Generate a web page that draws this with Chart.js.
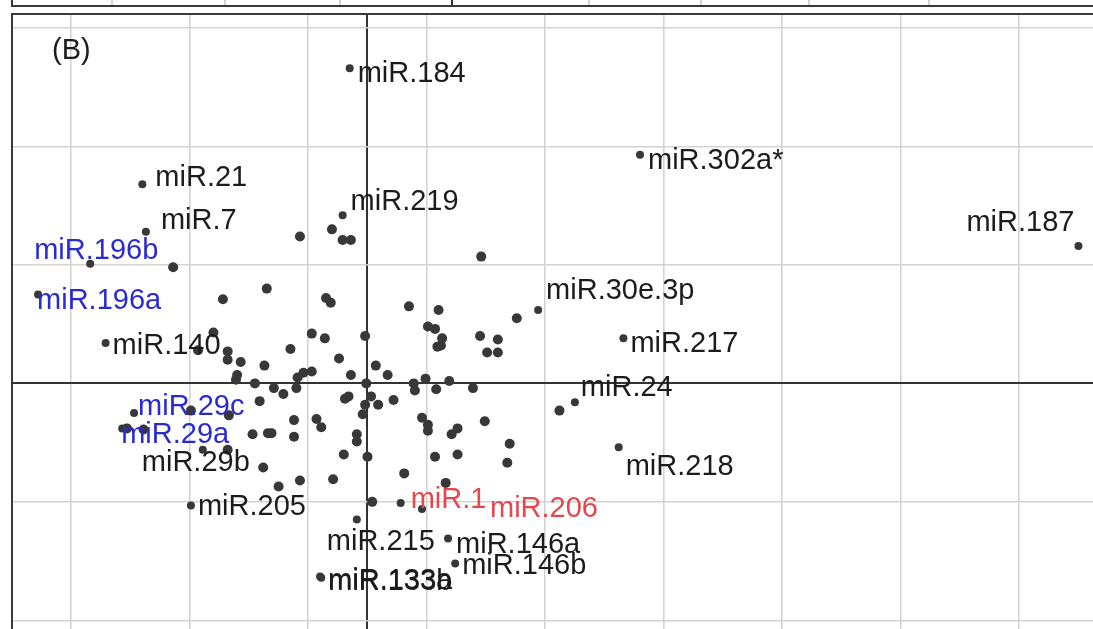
<!DOCTYPE html>
<html>
<head>
<meta charset="utf-8">
<script src="https://cdn.jsdelivr.net/npm/chart.js@4.4.1/dist/chart.umd.min.js"></script>
<style>
  body { margin: 0; background: #fff; overflow: hidden; width: 1093px; height: 629px; }
  #panelA { position: absolute; left: 0; top: 0; }
  #graph { position: absolute; left: 0; top: 0; }
</style>
</head>
<body>
<canvas id="graph" width="1120" height="650"></canvas>
<canvas id="panelA" width="1093" height="8"></canvas>
<script>
// labelled miRNAs
var labNames = ['miR.184', 'miR.302a*', 'miR.21', 'miR.219', 'miR.7', 'miR.187', 'miR.196b', 'miR.196a',
  'miR.30e.3p', 'miR.217', 'miR.140', 'miR.24', 'miR.29c', 'miR.29a', 'miR.29b', 'miR.205',
  'miR.1', 'miR.206', 'miR.215', 'miR.146a', 'miR.146b', 'miR.133a', 'miR.133b', 'miR.218'];
var labX = [-0.15, 2.30, -1.90, -0.21, -1.87, 6.00, -2.34, -2.78,
  1.44, 2.16, -2.21, 1.75, -1.97, -2.07, -1.39, -1.49,
  0.28, 0.46, -0.09, 0.68, 0.74, -0.40, -0.39, 2.12];
var labY = [2.66, 1.93, 1.68, 1.42, 1.28, 1.16, 1.01, 0.75,
  0.62, 0.38, 0.34, -0.16, -0.25, -0.38, -0.56, -1.03,
  -1.01, -1.06, -1.15, -1.31, -1.52, -1.63, -1.64, -0.54];
// 'k' black, 'b' blue, 'r' red
var labGroup = ['k', 'k', 'k', 'k', 'k', 'k', 'b', 'b',
  'k', 'k', 'k', 'k', 'b', 'b', 'k', 'k',
  'r', 'r', 'k', 'k', 'k', 'k', 'k', 'k'];

// unlabelled miRNAs
var otherX = [-1.64, -0.57, -0.30, -0.21, -0.14, 0.96, -1.22, -0.85, -0.35, -0.31,
  0.35, 0.60, 1.26, 0.51, 0.57, 0.63, 0.62, 0.59, 0.95, 1.10,
  1.01, 1.10, -0.47, -0.36, -0.02, -0.65, -0.24, -0.87, 0.07, -0.14,
  0.17, -0.59, -0.54, -0.47, -0.95, -0.79, -0.60, -0.71, -0.01, 0.49,
  0.69, 0.39, 0.40, 0.58, 0.89, -0.91, -0.19, -0.16, 0.03, -0.02,
  0.09, 0.22, -0.04, -0.43, -0.39, -0.62, 0.46, 0.51, 0.51, 0.99,
  0.76, 0.71, -0.97, -0.84, -0.81, -0.62, -0.09, -0.09, 1.20, 1.18,
  0.57, 0.76, -0.20, 0.00, -0.88, 0.31, -0.29, -0.57, -0.75, 0.66,
  0.04, -1.30, -1.43, -1.18, -1.18, -1.07, -1.10, -1.11, -1.49, -1.17,
  -1.18, -2.03, -1.89, 1.62];
var otherY = [0.98, 1.24, 1.30, 1.21, 1.21, 1.07, 0.71, 0.80, 0.72, 0.68,
  0.65, 0.62, 0.55, 0.48, 0.46, 0.38, 0.32, 0.31, 0.40, 0.37,
  0.26, 0.26, 0.42, 0.38, 0.40, 0.29, 0.21, 0.15, 0.15, 0.07,
  0.07, 0.05, 0.09, 0.10, 0.00, -0.04, -0.04, -0.09, 0.00, 0.04,
  0.02, 0.00, -0.06, -0.05, -0.04, -0.15, -0.13, -0.11, -0.11, -0.18,
  -0.18, -0.14, -0.26, -0.30, -0.37, -0.31, -0.29, -0.35, -0.40, -0.32,
  -0.38, -0.43, -0.43, -0.42, -0.42, -0.45, -0.43, -0.49, -0.51, -0.67,
  -0.62, -0.60, -0.60, -0.62, -0.71, -0.76, -0.81, -0.82, -0.87, -0.84,
  -1.00, 0.43, 0.28, 0.27, 0.20, 0.18, 0.07, 0.03, -0.23, -0.27,
  -0.56, -0.38, -0.39, -0.23];

var xGrid = [-2.5, -1.5, -0.5, 0, 0.5, 1.5, 2.5, 3.5, 4.5, 5.5];
var yGrid = [-2, -1, 0, 1, 2, 3];
var panelAGrid = [112, 225, 340, 452, 589, 701, 809, 929];

// where each label sits relative to its point (px)
var labelOffsets = [[8, 6], [8, 6], [13, -6], [8, -13], [15, -11], [-112, -23], [-56, -13], [-1, 6],
  [8, -19], [7, 6], [7, 3], [6, -14], [4, -6], [-1, 7], [-61, 13], [7, 2],
  [10, -3], [68, 0], [-30, 22], [8, 6], [7, 3], [8, 5], [7, 4], [7, 20]];
var groupColors = { k: '#1c1c1c', b: '#2a2ad2', r: '#e4474d' };
var FONT = "29px 'Liberation Sans', Arial, sans-serif";

function toPoints(xs, ys) {
  return xs.map(function(v, i) { return { x: v, y: ys[i] }; });
}

var framePlugin = {
  id: 'frame',
  beforeDatasetsDraw: function(chart) {
    var ctx = chart.ctx, a = chart.chartArea;
    ctx.save();
    ctx.strokeStyle = '#3a3a3a';
    ctx.lineWidth = 2;
    ctx.beginPath();
    ctx.moveTo(a.left, a.bottom);
    ctx.lineTo(a.left, a.top);
    ctx.lineTo(a.right, a.top);
    ctx.stroke();
    ctx.restore();
  }
};

var labelPlugin = {
  id: 'labels',
  afterDatasetsDraw: function(chart) {
    var ctx = chart.ctx;
    var sx = chart.scales.x, sy = chart.scales.y;
    ctx.save();
    ctx.font = FONT;
    ctx.textBaseline = 'middle';
    ctx.textAlign = 'left';
    ctx.fillStyle = '#1c1c1c';
    ctx.fillText('(B)', 52, 51);
    labNames.forEach(function(name, i) {
      var px = sx.getPixelForValue(labX[i]) + labelOffsets[i][0];
      var py = sy.getPixelForValue(labY[i]) + labelOffsets[i][1];
      ctx.fillStyle = groupColors[labGroup[i]];
      ctx.fillText(name, px, py);
    });
    ctx.restore();
  }
};

function gridColor(c) {
  return c.tick && c.tick.value === 0 ? '#333333' : '#d3d3d3';
}
function gridWidth(c) {
  return c.tick && c.tick.value === 0 ? 2 : 1.6;
}

var chart = new Chart(document.querySelector('#graph').getContext('2d'), {
  type: 'scatter',
  data: {
    datasets: [{
      data: toPoints(otherX, otherY),
      backgroundColor: '#383838',
      borderWidth: 0,
      pointRadius: 5
    }, {
      data: toPoints(labX, labY),
      backgroundColor: '#383838',
      borderWidth: 0,
      pointRadius: 4
    }]
  },
  options: {
    responsive: false,
    animation: false,
    devicePixelRatio: 1,
    layout: { padding: { left: 12, top: 14, right: 6, bottom: 6 } },
    plugins: { legend: { display: false }, tooltip: { enabled: false } },
    scales: {
      x: {
        type: 'linear', min: -3, max: 6.3,
        afterBuildTicks: function(s) { s.ticks = xGrid.map(function(v) { return { value: v }; }); },
        ticks: { display: false },
        grid: { color: gridColor, lineWidth: gridWidth, drawTicks: false },
        border: { display: false }
      },
      y: {
        type: 'linear', min: -2.2, max: 3.118,
        afterBuildTicks: function(s) { s.ticks = yGrid.map(function(v) { return { value: v }; }); },
        ticks: { display: false },
        grid: { color: gridColor, lineWidth: gridWidth, drawTicks: false },
        border: { display: false }
      }
    }
  },
  plugins: [framePlugin, labelPlugin]
});

// bottom edge of the panel above (A)
var panelA = new Chart(document.querySelector('#panelA').getContext('2d'), {
  type: 'scatter',
  data: { datasets: [{ data: [] }] },
  options: {
    responsive: false,
    animation: false,
    devicePixelRatio: 1,
    layout: { padding: { left: 12, top: 0, right: 0, bottom: 2 } },
    plugins: { legend: { display: false }, tooltip: { enabled: false } },
    scales: {
      x: {
        type: 'linear', min: 12, max: 1093,
        afterBuildTicks: function(s) { s.ticks = panelAGrid.map(function(v) { return { value: v }; }); },
        ticks: { display: false },
        grid: {
          color: function(c) { return c.tick && c.tick.value === 452 ? '#333333' : '#d3d3d3'; },
          lineWidth: 2, drawTicks: false
        },
        border: { display: true, color: '#3a3a3a', width: 2 }
      },
      y: {
        min: 0, max: 1,
        ticks: { display: false },
        grid: { display: false, drawTicks: false },
        border: { display: true, color: '#3a3a3a', width: 2 }
      }
    }
  }
});
</script>
</body>
</html>
